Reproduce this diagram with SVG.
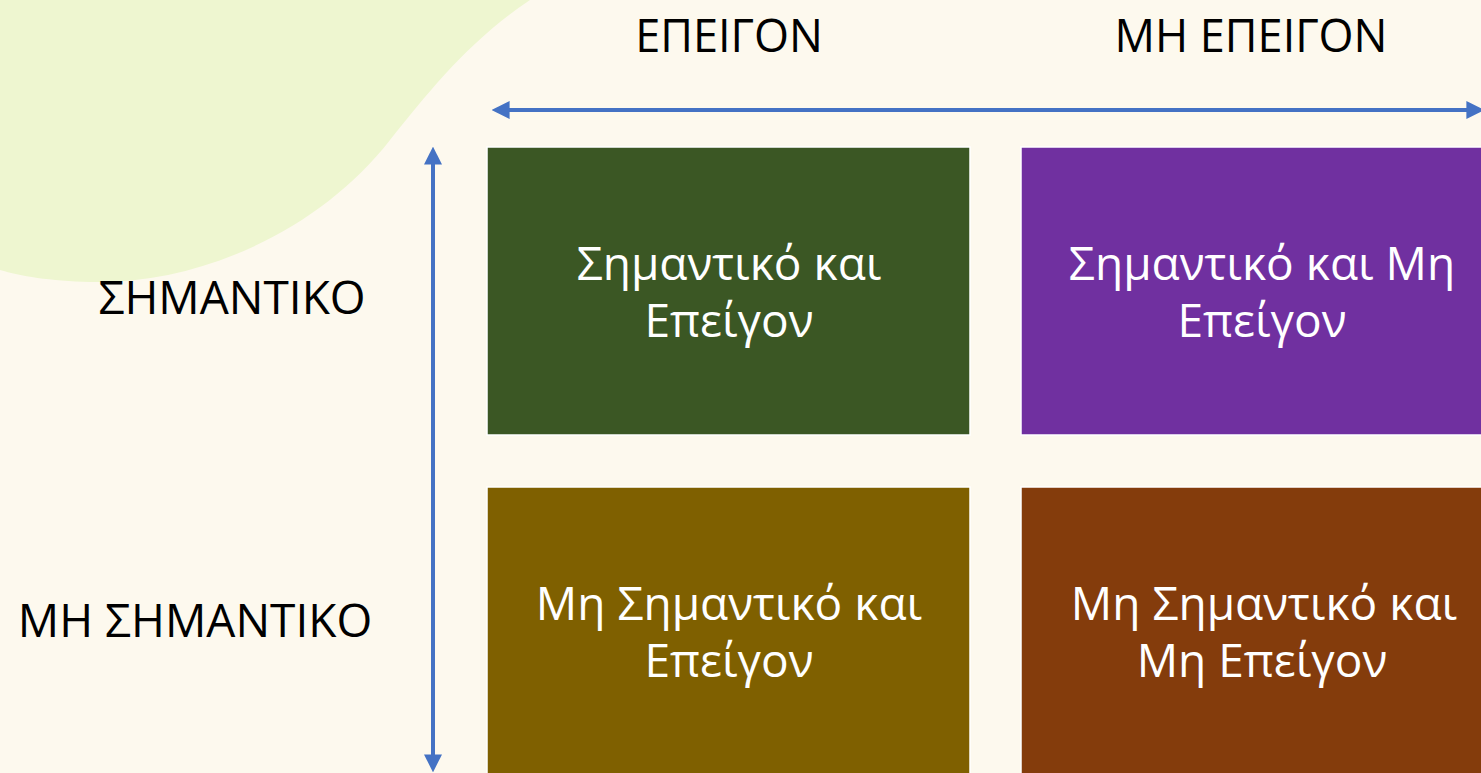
<svg xmlns="http://www.w3.org/2000/svg" width="1481" height="773" viewBox="0 0 1481 773">
<style>
.hdr{font-family:"Open Sans","Noto Sans",sans-serif;font-size:45px;fill:#000;text-anchor:middle}
.row{font-family:"Open Sans","Noto Sans",sans-serif;font-size:46px;fill:#000;text-anchor:middle}
.box{stroke:#fff;stroke-width:1.5}
.lbl{font-family:"Open Sans","Noto Sans",sans-serif;font-size:46px;fill:#fff;text-anchor:middle}
.ax{stroke:#4472C4;stroke-width:4;fill:none}
</style>
<defs>
<marker id="ah" viewBox="0 0 10 10" refX="2" refY="5" markerWidth="4.5" markerHeight="4.5" orient="auto-start-reverse" markerUnits="strokeWidth">
<path d="M0,0 L10,5 L0,10 Z" fill="#4472C4"/>
</marker>
</defs>
<rect width="1481" height="773" fill="#FDF9EE"/>
<path d="M0,0 L530,0 C470,40 430,90 390,140 C320,230 200,285 90,282 C50,281 20,276 0,270 Z" fill="#EEF6D0"/>
<g id="connectors">
<line class="ax" x1="506" y1="110" x2="1470" y2="110" marker-start="url(#ah)" marker-end="url(#ah)"/>
<line class="ax" x1="433" y1="161" x2="433" y2="758" marker-start="url(#ah)" marker-end="url(#ah)"/>
</g>
<g id="header-urgent"><text class="hdr" x="729" y="52">ΕΠΕΙΓΟΝ</text></g>
<g id="header-not-urgent"><text class="hdr" x="1251" y="52">ΜΗ ΕΠΕΙΓΟΝ</text></g>
<g id="row-important"><text class="row" x="232" y="314">ΣΗΜΑΝΤΙΚΟ</text></g>
<g id="row-not-important"><text class="row" x="195" y="637">ΜΗ ΣΗΜΑΝΤΙΚΟ</text></g>
<g id="q1">
<rect class="box" x="487" y="147" width="483" height="288" fill="#3B5724"/>
<text class="lbl" x="729" y="280">Σημαντικό και</text>
<text class="lbl" x="729" y="337">Επείγον</text>
</g>
<g id="q2">
<rect class="box" x="1021" y="147" width="490" height="288" fill="#7030A0"/>
<text class="lbl" x="1262" y="280">Σημαντικό και Μη</text>
<text class="lbl" x="1262" y="337">Επείγον</text>
</g>
<g id="q3">
<rect class="box" x="487" y="487" width="483" height="300" fill="#7F6000"/>
<text class="lbl" x="729" y="620">Μη Σημαντικό και</text>
<text class="lbl" x="729" y="677">Επείγον</text>
</g>
<g id="q4">
<rect class="box" x="1021" y="487" width="490" height="300" fill="#843C0C"/>
<text class="lbl" x="1264" y="620">Μη Σημαντικό και</text>
<text class="lbl" x="1262" y="677">Μη Επείγον</text>
</g>
</svg>
